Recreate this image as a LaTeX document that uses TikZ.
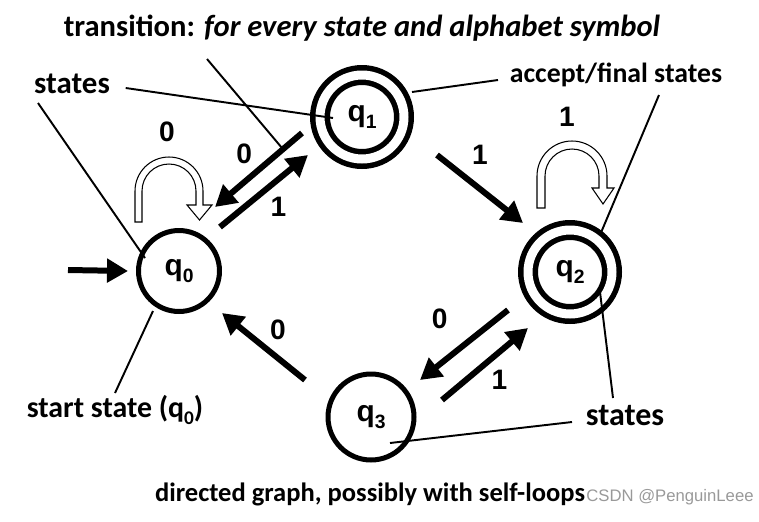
\documentclass[tikz,border=0pt]{standalone}
\usepackage{fontspec}
\setmainfont{Carlito}
\newfontfamily\arialfont{Liberation Sans}
\usepackage{tikz}
\tikzset{>=latex}
\usetikzlibrary{arrows.meta}
\newcommand*{\qsub}[1]{q\raisebox{-0.22em}{\fontsize{11}{11}\selectfont #1}}
\newcommand*{\fsz}[1]{\fontsize{#1}{20}\selectfont}

\begin{document}
\begin{tikzpicture}[x=0.02cm, y=-0.02cm,
    state/.style={circle, draw, line width=0.1cm, minimum size=1.62cm, inner sep=0pt,
        font=\arialfont\bfseries\fontsize{17}{17}\selectfont},
    accept/.style={state, double, line width=0.11cm, double distance=0.18cm, minimum size=1.68cm},
    trans/.style={line width=0.12cm, -{Triangle[length=0.42cm, width=0.46cm]}},
    lbl/.style={font=\arialfont\bfseries\fontsize{16}{16}\selectfont, inner sep=2pt},
    selfloop/.style={draw, fill=white, line width=0.6pt, line join=miter},
    pointer/.style={line width=1.1pt},
    note/.style={font=\bfseries\fsz{17}, inner sep=2pt},
    wmark/.style={font=\arialfont\fontsize{9.5}{10}\selectfont, text=black!40, inner sep=0pt}]
    \useasboundingbox (0,0) rectangle (759,521);
    % states
    \node[state] (q0) at (179,271) {\qsub{0}};
    \node[accept] (q1) at (362,117) {\qsub{1}};
    \node[accept] (q2) at (570,272) {\qsub{2}};
    \node[state, minimum size=1.72cm] (q3) at (371,417) {\qsub{3}};
    % transitions
    \coordinate (start) at (68,270);
    \draw[trans] (start) -- ([shift={(-8,0)}]q0.west);
    \draw[trans] ([shift={(-60,16)}]q1.center) -- ([shift={(36,-64)}]q0.center)node[lbl, midway, above left]{0};
    \draw[trans] ([shift={(41,-44)}]q0.center) -- ([shift={(-54,38)}]q1.center)node[lbl, midway, below right]{1};
    \draw[trans] ([shift={(75,38)}]q1.center) -- ([shift={(-47,-49)}]q2.center)node[lbl, midway, above=0.36cm]{1};
    \draw[trans] ([shift={(-62,38)}]q2.center) -- ([shift={(49,-37)}]q3.center)node[lbl, midway, above left=0.2cm]{0};
    \draw[trans] ([shift={(71,-17)}]q3.center) -- ([shift={(-42,56)}]q2.center)node[lbl, midway, below right]{1};
    \draw[trans] ([shift={(-66,-37)}]q3.center) -- ([shift={(43,42)}]q0.center)node[lbl, midway, above right]{0};
    % self-loops
    \draw[selfloop] (135,222) -- (135,191) arc[start angle=180, end angle=360, radius=34] -- (203,205) -- (212,205)
        -- (199.5,220) -- (187,205) -- (196,205) -- (196,191) arc[start angle=360, end angle=180, radius=27] -- (142,222) -- cycle;
    \node[lbl] (loop0) at (167,132) {0};
    \draw[selfloop] (537,208) -- (537,176) arc[start angle=180, end angle=360, radius=35] -- (607,188) -- (614,188)
        -- (603,204) -- (592,188) -- (599,188) -- (599,176) arc[start angle=360, end angle=180, radius=27] -- (545,208) -- cycle;
    \node[lbl] (loop2) at (567,117) {1};
    % notes
    \node[note, font=\bfseries\fsz{17.4}] (trans) at (362,28) {transition: \textit{for every state and alphabet symbol}};
    \node[note, font=\bfseries\fsz{17.6}] (statesA) at (72,84) {states};
    \node[note, anchor=west, font=\bfseries\fsz{15.8}] (acceptlbl) at (506,75) {accept/final states};
    \node[note] (startlbl) at (115,410) {start state (\qsub{0})};
    \node[note, font=\bfseries\fsz{18.2}] (statesB) at (625,416) {states};
    \node[note, font=\bfseries\fsz{15.1}] (caption) at (370,494) {directed graph, possibly with self-loops};
    \node[wmark, anchor=west] (csdn) at (586,497) {CSDN @PenguinLeee};
    % pointers
    \draw[pointer] ([shift={(12,4)}]statesA.east) -- ([shift={(-29,1)}]q1.center);
    \draw[pointer] ([shift={(-34,19)}]statesA.center) -- ([shift={(-34,-13)}]q0.center);
    \coordinate (transend) at (282,148);
    \draw[pointer] ([shift={(-155,31)}]trans.center) -- (transend);
    \draw[pointer] ([shift={(50,-25)}]q1.center) -- ([shift={(-8,5)}]acceptlbl.west);
    \draw[pointer] ([shift={(43,20)}]acceptlbl.center) -- ([shift={(30,-37)}]q2.center);
    \draw[pointer] ([shift={(-12,-18)}]statesB.center) -- ([shift={(30,20)}]q2.center);
    \draw[pointer] ([shift={(-53,6)}]statesB.center) -- ([shift={(19,26)}]q3.center);
    \draw[pointer] ([shift={(0,-17)}]startlbl.center) -- ([shift={(-26,40)}]q0.center);
\end{tikzpicture}
\end{document}
